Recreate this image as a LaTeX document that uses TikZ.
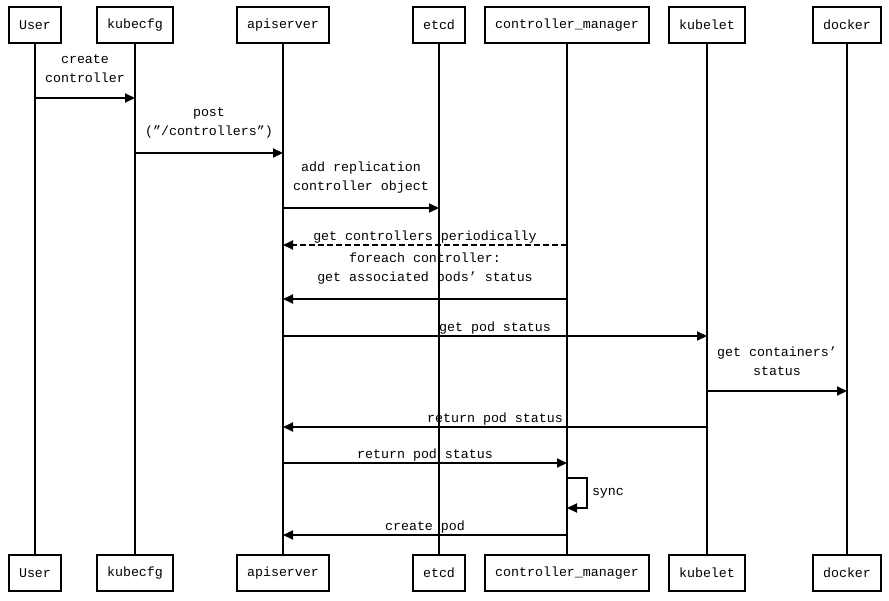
\documentclass[tikz,border=0pt]{standalone}
\usepackage{fontspec}
\setmonofont{Liberation Mono}
\usetikzlibrary{arrows.meta}
\tikzset{
  actor/.style={draw,line width=2pt,minimum height=36pt,inner xsep=10pt,fill=white},
  life/.style={line width=2pt},
  msg/.style={line width=2pt,-{Triangle[length=10pt,width=9pt]}},
  lbl/.style={above,inner sep=1pt,align=center},
  lbltwo/.style={above=13pt,inner sep=1pt,align=center},
}
\begin{document}
\begin{tikzpicture}[x=1pt,y=-1pt,font=\ttfamily\fontsize{13.3}{19}\selectfont]
\useasboundingbox (0,0) rectangle (889,600);
% participants, top row
\node[actor] (user) at (35,25) {User};
\node[actor] (kubecfg) at (135,25) {kubecfg};
\node[actor] (api) at (283,25) {apiserver};
\node[actor] (etcd) at (439,25) {etcd};
\node[actor] (cm) at (567,25) {controller\_manager};
\node[actor] (kubelet) at (707,25) {kubelet};
\node[actor] (docker) at (847,25) {docker};
% participants, bottom row
\node[actor] (userB) at (35,573) {User};
\node[actor] (kubecfgB) at (135,573) {kubecfg};
\node[actor] (apiB) at (283,573) {apiserver};
\node[actor] (etcdB) at (439,573) {etcd};
\node[actor] (cmB) at (567,573) {controller\_manager};
\node[actor] (kubeletB) at (707,573) {kubelet};
\node[actor] (dockerB) at (847,573) {docker};
% lifelines
\draw[life] (user) -- (userB);
\draw[life] (kubecfg) -- (kubecfgB);
\draw[life] (api) -- (apiB);
\draw[life] (etcd) -- (etcdB);
\draw[life] (cm) -- (cmB);
\draw[life] (kubelet) -- (kubeletB);
\draw[life] (docker) -- (dockerB);
% message rows
\coordinate (m1) at (0,98);
\coordinate (m2) at (0,153);
\coordinate (m3) at (0,208);
\coordinate (m4) at (0,245);
\coordinate (m5) at (0,299);
\coordinate (m6) at (0,336);
\coordinate (m7) at (0,391);
\coordinate (m8) at (0,427);
\coordinate (m9) at (0,463);
\coordinate (s1) at (0,478);
\coordinate (s2) at (0,508);
\coordinate (m10) at (0,535);
% messages
\draw[msg] (user |- m1) -- (kubecfg |- m1) node[midway,lbltwo] {create\\controller};
\draw[msg] (kubecfg |- m2) -- (api |- m2) node[midway,lbltwo] {post\\(”/controllers”)};
\draw[msg] (api |- m3) -- (etcd |- m3) node[midway,lbltwo] {add replication\\controller object};
\draw[msg,dash pattern=on 6pt off 3pt] (cm |- m4) -- (api |- m4) node[midway,lbl] {get controllers periodically};
\draw[msg] (cm |- m5) -- (api |- m5) node[midway,lbltwo] {foreach controller:\\get associated pods’ status};
\draw[msg] (api |- m6) -- (kubelet |- m6) node[midway,lbl] {get pod status};
\draw[msg] (kubelet |- m7) -- (docker |- m7) node[midway,lbltwo] {get containers’\\status};
\draw[msg] (kubelet |- m8) -- (api |- m8) node[midway,lbl] {return pod status};
\draw[msg] (api |- m9) -- (cm |- m9) node[midway,lbl] {return pod status};
\draw[msg] (cm |- s1) -- ++(20,0) |- (cm |- s2) node[pos=0.25,right,inner sep=4pt] {sync};
\draw[msg] (cm |- m10) -- (api |- m10) node[midway,lbl] {create pod};
\end{tikzpicture}
\end{document}
